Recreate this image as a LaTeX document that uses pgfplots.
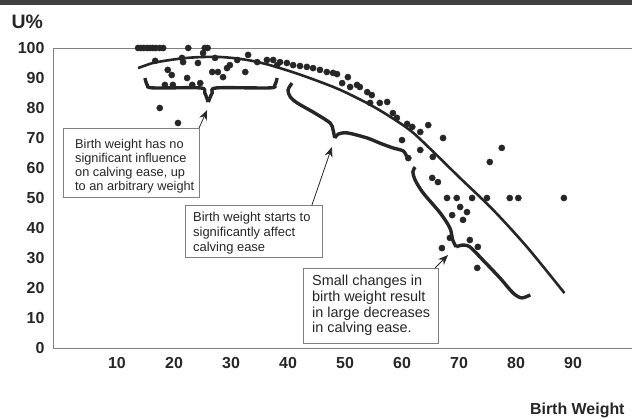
\documentclass[border=0pt]{standalone}
\usepackage{fontspec}
\setmainfont{Liberation Sans}
\usepackage{pgfplots}
\pgfplotsset{compat=1.18}
\usetikzlibrary{arrows.meta}

\definecolor{ink}{gray}{0.15}
\definecolor{frame}{gray}{0.5}

\begin{document}
\begin{tikzpicture}
\useasboundingbox (0,0) rectangle (632bp,419bp);
\fill[black!75] (0,414bp) rectangle (632bp,419bp);
\begin{axis}[%
at={(53bp,71bp)}, anchor=south west,
scale only axis,
width=585bp, height=300bp,
xmin=-1.228, xmax=101.4,
ymin=0, ymax=100,
xtick={10,20,...,90},
ytick={0,10,...,100},
major tick length=0pt,
axis line style={frame, line width=0.9bp},
tick label style={font=\bfseries\fontsize{16}{16}\selectfont, text=ink},
/pgf/number format/assume math mode=true,
xticklabel style={yshift=-6bp},
yticklabel style={xshift=-5bp},
clip=false,
xlabel={Birth Weight},
xlabel style={at={(rel axis cs:0.983,0)}, anchor=east, yshift=-62bp, text=ink, font=\bfseries\fontsize{16}{18}\selectfont},
ylabel={U\%},
ylabel style={rotate=-90, at={(rel axis cs:0,1)}, anchor=west, xshift=-45bp, yshift=26bp, text=ink, font=\bfseries\fontsize{19.5}{20}\selectfont},
]

% observed calves
\addplot[only marks, mark=*, mark size=3.1bp, color=ink] table {
x y
13.7 100
14.2 100
14.7 100
15.3 100
15.8 100
16.3 100
16.8 100
17.5 100
18.1 100
22.5 100
25.4 100
25.9 100
25.1 98.3
16.7 95.7
21.4 96.7
21.6 95.3
24.2 95
27.2 96.7
29.3 93.3
29.8 94.3
31.1 96
33.0 97.7
32.5 92
34.6 95.3
36.3 96
38.1 94.3
18.9 92.7
19.6 91
22.3 90
26.7 92
27.7 92
28.6 90.3
18.4 87.7
19.8 87.7
23.2 87.7
24.6 88.3
17.5 80
20.7 75
37.4 96
38.6 95.3
39.8 95
40.9 94.3
42.1 94
43.3 93.7
44.4 93.3
45.6 92.7
46.8 92
47.9 91.7
48.6 91.3
49.5 88.3
50.5 90.3
50.9 87
52.1 87.7
52.6 87
53.9 85.3
54.7 84.3
54.4 81.7
56.1 81.7
57.4 82
58.4 78.3
59.1 76.7
60.9 74.7
61.8 73.7
60.0 69.3
63.2 72
64.6 74.3
67.2 70
63.2 66
65.4 63.7
61.1 63.3
77.5 66.7
75.4 62
65.3 56.7
66.3 55.3
67.9 50
69.6 50
72.3 50
74.9 50
78.9 50
80.4 50
88.4 50
70.2 47
71.4 45.3
68.8 44.3
70.7 42.7
68.4 36.7
67.0 33.3
71.9 36
73.3 33.7
73.2 26.7
};

% fitted curve
\addplot[smooth, line width=2.6bp, color=ink] coordinates {
(13.7,93.3) (16.3,95) (19.3,96) (22.3,96.7) (25.1,97) (28.1,97) (31.1,96.5)
(34,95.6) (37,94.2) (42,91.2) (48.6,86.5) (54,81.5) (58,77) (61.6,72.3)
(65,66.3) (70,57) (76,46) (82,33.5) (88.5,18.3)
};

% braces
\addplot[smooth, tension=0.5, line width=3.4bp, color=ink] coordinates {
(14.9,90) (15.3,87.7) (16.3,86.7) (24.6,86.7) (25.4,85) (26,82)
};
\addplot[smooth, tension=0.5, line width=3.4bp, color=ink] coordinates {
(26,82) (26.7,85) (27.5,86.7) (36.8,86.7) (37.7,87.7) (38.1,90)
};
\addplot[smooth, tension=0.5, line width=3.4bp, color=ink] coordinates {
(40.7,88.3) (40.0,86) (40.4,83.7) (41.6,81.7) (44.7,78.3) (47.4,75) (47.9,72.7) (48.2,70)
};
\addplot[smooth, tension=0.5, line width=3.4bp, color=ink] coordinates {
(48.2,70) (48.8,71.3) (50.4,71.7) (53.9,70) (56.1,68.3) (58.4,66.7) (60.2,65.7) (60.8,63.9)
};
\addplot[smooth, tension=0.5, line width=3.4bp, color=ink] coordinates {
(62.3,60.3) (61.9,58.7) (62.3,56) (63.7,51.7) (66.7,45) (68.4,40) (68.9,36) (69.5,33.7)
};
\addplot[smooth, tension=0.5, line width=3.4bp, color=ink] coordinates {
(69.5,33.7) (70.5,34.3) (71.9,33.7) (74.2,29.3) (77.2,23.3) (79.5,18.3) (81,16.7) (82.5,17.7)
};

% annotation boxes
\draw[frame, line width=0.8bp, fill=white] (axis cs:0.53,73.33) rectangle (axis cs:24.39,50.33);
\node[anchor=north west, inner sep=0, align=left, text=ink,
  font=\fontsize{12.8}{14}\selectfont] at (axis cs:2.63,69.6)
  {Birth weight has no\\significant influence\\on calving ease, up\\to an arbitrary weight};
\draw[frame, line width=0.8bp, fill=white] (axis cs:21.93,47.67) rectangle (axis cs:45.96,30.33);
\node[anchor=north west, inner sep=0, align=left, text=ink,
  font=\fontsize{13}{15}\selectfont] at (axis cs:23.33,45.2)
  {Birth weight starts to\\significantly affect\\calving ease};
\draw[frame, line width=0.8bp, fill=white] (axis cs:42.63,26.67) rectangle (axis cs:66.32,1.67);
\node[anchor=north west, inner sep=0, align=left, text=ink,
  font=\fontsize{14.5}{16}\selectfont] at (axis cs:44.21,24.5)
  {Small changes in\\birth weight result\\in large decreases\\in calving ease.};

% arrows
\draw[-{Stealth[length=10bp,width=8bp]}, line width=0.8bp, ink] (axis cs:24.39,73.33) -- (axis cs:25.8,79.3);
\draw[-{Stealth[length=10bp,width=8bp]}, line width=0.8bp, ink] (axis cs:44.2,47.67) -- (axis cs:47.7,67);
\draw[-{Stealth[length=10bp,width=8bp]}, line width=0.8bp, ink] (axis cs:65.8,26.67) -- (axis cs:68.07,31);

\end{axis}
\end{tikzpicture}
\end{document}
